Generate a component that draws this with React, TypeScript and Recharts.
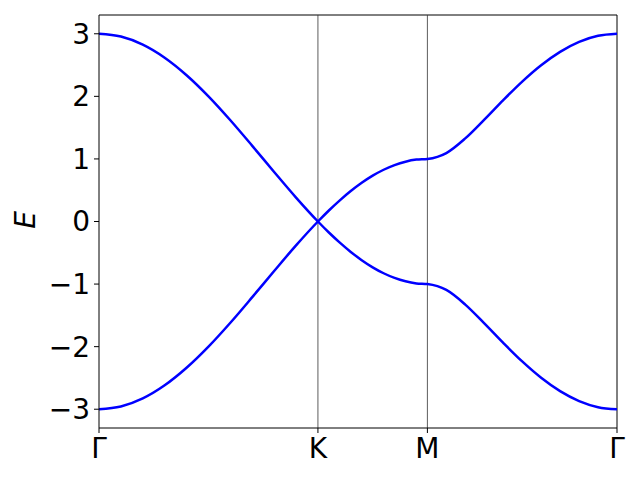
import { LineChart, Line, XAxis, YAxis, ReferenceLine } from 'recharts'

// path coordinate along Γ–K–M–Γ (segment lengths 2 : 1 : √3)
const pathX = [
  0, 0.2, 0.4, 0.6, 0.8, 1.0, 1.2, 1.4, 1.6, 1.8, 2.0,
  2.1, 2.2, 2.3, 2.4, 2.5, 2.6, 2.7, 2.8, 2.9, 3.0,
  3.173, 3.346, 3.52, 3.693, 3.866, 4.039, 4.212, 4.386, 4.559, 4.732,
]

// the two curves as they cross at K: one runs 3 → 0 → −1 → −3, the other −3 → 0 → 1 → 3
const bandFalling = [
  3.0, 2.956, 2.827, 2.618, 2.338, 2.0, 1.618, 1.209, 0.791, 0.382, 0.0,
  -0.176, -0.338, -0.486, -0.618, -0.732, -0.827, -0.902, -0.956, -0.989, -1.0,
  -1.094, -1.328, -1.628, -1.94, -2.236, -2.497, -2.711, -2.87, -2.967, -3.0,
]

const bandRising = [
  -3.0, -2.956, -2.827, -2.618, -2.338, -2.0, -1.618, -1.209, -0.791, -0.382, 0.0,
  0.176, 0.338, 0.486, 0.618, 0.732, 0.827, 0.902, 0.956, 0.989, 1.0,
  1.094, 1.328, 1.628, 1.94, 2.236, 2.497, 2.711, 2.87, 2.967, 3.0,
]

const pathTicks = [0, 2, 3, 4.732]
const pathLabels = ['Γ', 'K', 'M', 'Γ']
const energyTicks = [-3, -2, -1, 0, 1, 2, 3]

const data = pathX.map((x, i) => ({ x, falling: bandFalling[i], rising: bandRising[i] }))

const FONT = '"DejaVu Sans", sans-serif'
const BLUE = '#0000ff'

function App() {
  return (
    <div style={{ position: 'absolute', left: 0, top: 0, width: 640, height: 480, background: '#fff' }}>
      <LineChart width={640} height={480} data={data} margin={{ top: 15, right: 23, bottom: 0, left: 0 }}>
        <XAxis
          type="number"
          dataKey="x"
          domain={[0, 4.732]}
          ticks={pathTicks}
          tickFormatter={(v) => pathLabels[pathTicks.indexOf(v)] ?? ''}
          interval={0}
          height={52}
          stroke="#000"
          tickSize={5}
          tickMargin={5}
          tick={{ fill: '#000', fontSize: 28, fontFamily: FONT }}
          allowDataOverflow
        />
        <YAxis
          type="number"
          domain={[-3.3, 3.3]}
          ticks={energyTicks}
          tickFormatter={(v) => (v < 0 ? `\u2212${Math.abs(v)}` : `${v}`)}
          interval={0}
          width={99}
          stroke="#000"
          tickSize={5}
          tickMargin={4}
          tick={{ fill: '#000', fontSize: 28, fontFamily: FONT }}
          allowDataOverflow
          label={{
            content: () => (
              <text
                x={25}
                y={220}
                transform="rotate(-90 25 220)"
                textAnchor="middle"
                dominantBaseline="central"
                fontSize={28}
                fontStyle="italic"
                fontFamily={FONT}
                fill="#000"
              >
                E
              </text>
            ),
          }}
        />
        <ReferenceLine y={3.3} stroke="#000" strokeWidth={1} />
        <ReferenceLine x={4.732} stroke="#000" strokeWidth={1} />
        <ReferenceLine x={2} stroke="#333" strokeWidth={0.8} />
        <ReferenceLine x={3} stroke="#333" strokeWidth={0.8} />
        <Line type="monotone" dataKey="falling" stroke={BLUE} strokeWidth={2.5} dot={false} isAnimationActive={false} />
        <Line type="monotone" dataKey="rising" stroke={BLUE} strokeWidth={2.5} dot={false} isAnimationActive={false} />
      </LineChart>
    </div>
  )
}

export default App
